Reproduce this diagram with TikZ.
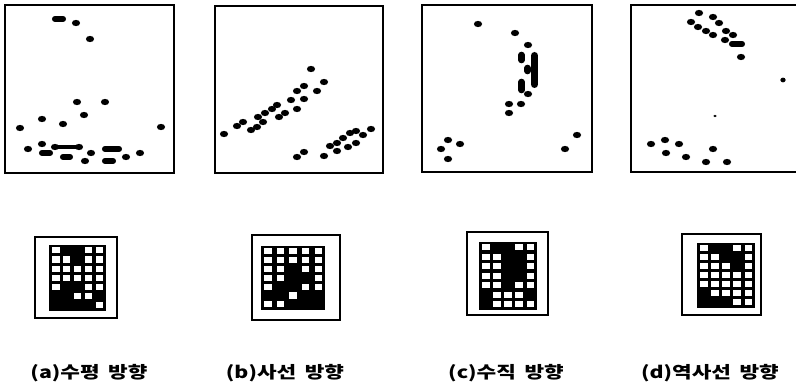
\documentclass[tikz,border=0pt]{standalone}
\usepackage{fontspec}
\newfontfamily\krfont{Noto Sans CJK KR}
\tikzset{
  panelframe/.style={line width=1.3pt},
  iconframe/.style={line width=1.3pt},
  dashmark/.style={line width=4.4pt, line cap=round},
  barmark/.style={line width=5.4pt, line cap=round},
  lbl/.style={font=\krfont\bfseries\fontsize{12.5pt}{14pt}\selectfont, inner sep=0pt, anchor=center}
}
\newcommand\dt[2]{\fill (#1,#2) ellipse [x radius=3.1pt, y radius=2.35pt];}
\newcommand\dsh[3]{\draw[dashmark] (#1+2.9,#3) -- (#2-2.9,#3);}
\newcommand\vbr[3]{\draw[barmark] (#1,#2+3.6) -- (#1,#3-3.6);}
\newcommand\iconcells[5]{%
  \fill (#1,#2) rectangle (#3,#4);
  \pgfmathsetmacro\icsx{(#3-#1-13.5)/4}
  \pgfmathsetmacro\icsy{(#4-#2-11)/6}
  \foreach \r/\c in {#5} {
    \fill[white] ({#1+3+(\c-1)*\icsx},{#2+2.3+(\r-1)*\icsy}) rectangle ++(7.5,6.1);
  }
}
\newcommand\lbltext[2]{\scalebox{1.28}[1]{#1\hspace{0.4em}#2}}
\begin{document}
\begin{tikzpicture}[x=0.75pt,y=-0.75pt]
\useasboundingbox (0,0) rectangle (796,388);
\clip (0,0) rectangle (796,388);
% panels
\draw[panelframe] (5,5) rectangle (174,173);
\draw[panelframe] (215,6) rectangle (383,173);
\draw[panelframe] (422,5) rectangle (592,172);
\draw[panelframe] (631,5) rectangle (801,172);
% panel a
\dsh{52}{66}{19}
\dsh{39}{53}{153}
\draw[line width=2.8pt, line cap=round] (55,147) -- (79,147);
\dt{55}{147}\dt{79}{147}
\dsh{60}{73}{157}
\dsh{102}{122}{149}
\dsh{102}{116}{161}
\foreach \x/\y in {76/23,90/39,77/102,105/102,42/119,84/115,63/124,20/128,161/127,28/149,42/144,91/153,85/161,126/157,140/153}
  {\dt{\x}{\y}}
% panel b
\foreach \x/\y in {224/134,237/126,243/122,251/130,257/127,263/122,258/117,265/113,272/109,277/105,279/117,285/113,291/100,297/109,304/99,297/91,304/86,311/69,317/91,324/82,297/157,304/152,324/156,330/146,337/151,337/143,343/138,348/147,350/133,356/143,356/131,363/135,371/129}
  {\dt{\x}{\y}}
% panel c
\foreach \x/\y in {478/24,515/33,528/45,528/94,509/104,521/104,509/113,448/140,460/144,441/149,448/159,577/135,565/149}
  {\dt{\x}{\y}}
\vbr{534.5}{52}{88}
\draw[line width=5pt, line cap=round] (521.5,55) -- (521.5,60);
\draw[line width=5pt, line cap=round] (527.5,68) -- (527.5,71);
\draw[line width=5pt, line cap=round] (521.5,82) -- (521.5,90);
% panel d
\foreach \x/\y in {699/13,713/17,719/23,691/22,698/27,706/31,713/35,726/31,733/35,725/40,741/57,665/140,651/144,679/144,713/149,666/153,686/157,706/162,727/162}
  {\dt{\x}{\y}}
\dsh{729}{745}{44}
\fill (783,80) ellipse [x radius=2.0pt, y radius=1.8pt];
\fill (715,116) ellipse [x radius=1.3pt, y radius=0.9pt];
% icons
\draw[iconframe] (35,237) rectangle (117,318);
\iconcells{49}{245}{106}{311}{1/1,1/4,1/5,2/1,2/2,2/4,2/5,3/1,3/2,3/3,3/4,3/5,4/1,4/2,4/3,4/4,4/5,5/1,5/4,5/5,6/3,6/4,7/5}
\draw[iconframe] (252,235) rectangle (340,320);
\iconcells{261}{246}{325}{310}{1/1,1/2,1/3,1/4,1/5,2/1,2/2,2/3,2/4,2/5,3/1,3/2,3/4,3/5,4/1,4/2,4/5,5/1,5/4,5/5,6/3,7/1,7/2}
\draw[iconframe] (467,232) rectangle (548,315);
\iconcells{479}{242}{537}{310}{1/1,1/4,1/5,2/1,2/2,2/5,3/1,3/2,3/5,4/1,4/2,4/5,5/1,5/2,5/4,5/5,6/2,6/3,6/4,7/2,7/3,7/4,7/5}
\draw[iconframe] (682,234) rectangle (761,315);
\iconcells{697}{243}{755}{308}{1/1,1/4,1/5,2/1,2/2,2/5,3/1,3/2,3/3,3/5,4/1,4/2,4/3,4/4,4/5,5/1,5/2,5/3,5/4,5/5,6/2,6/3,6/4,6/5,7/4,7/5}
% labels
\node[lbl] (la) at (89,373) {\lbltext{(a)수평}{방향}};
\node[lbl] (lb) at (285,373) {\lbltext{(b)사선}{방향}};
\node[lbl] (lc) at (506,373) {\lbltext{(c)수직}{방향}};
\node[lbl] (ld) at (710,373) {\lbltext{(d)역사선}{방향}};
\end{tikzpicture}
\end{document}
